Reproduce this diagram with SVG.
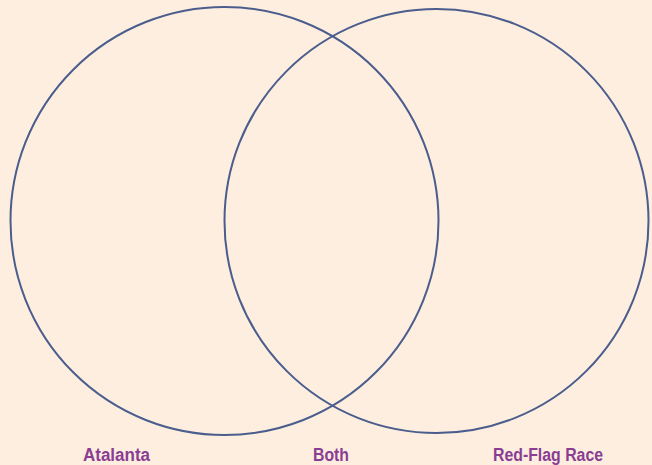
<svg xmlns="http://www.w3.org/2000/svg" width="652" height="465" viewBox="0 0 652 465">
<style>
.c{fill:none;stroke:#4a5d8c;stroke-width:2}
.t{font-family:"Liberation Sans",Arial,sans-serif;font-weight:bold;font-size:18px;fill:#8a3d92}
</style>
<rect width="652" height="465" fill="#fdeee0"/>
<g id="left-circle"><circle class="c" cx="224.5" cy="221" r="214"/></g>
<g id="right-circle"><circle class="c" cx="436.5" cy="221" r="212"/></g>
<g id="labels">
<text class="t" x="83" y="460.5" textLength="67" lengthAdjust="spacingAndGlyphs">Atalanta</text>
<text class="t" x="313" y="460.5" textLength="36" lengthAdjust="spacingAndGlyphs">Both</text>
<text class="t" x="493" y="460.5" textLength="110" lengthAdjust="spacingAndGlyphs">Red-Flag Race</text>
</g>
</svg>
